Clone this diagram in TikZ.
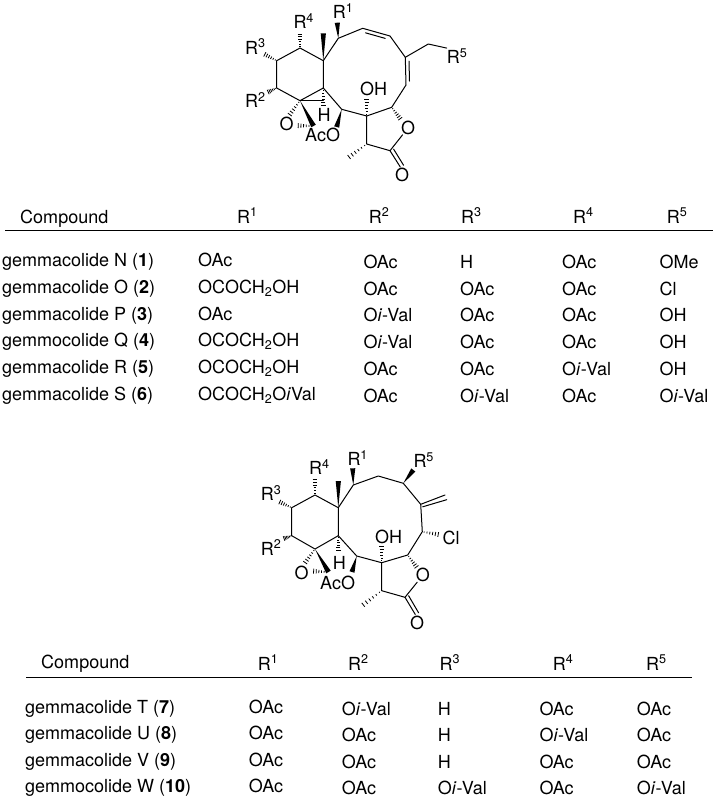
\documentclass[tikz,border=0pt]{standalone}
\usepackage{fontspec}
\setmainfont{TeX Gyre Heros}
\usetikzlibrary{calc}
\newcommand{\wedgebond}[2]{\fill (#1) -- ($(#2)!2.6pt!90:(#1)$) -- ($(#2)!2.6pt!-90:(#1)$) -- cycle;}
\newcommand{\hashbond}[2]{\foreach \t in {0.1,0.25,0.4,0.55,0.7,0.85,1}{
    \pgfmathsetmacro{\hw}{0.3+2.5*\t}
    \draw[line width=0.8pt] ($(#1)!\t!(#2)!\hw pt!90:(#2)$) -- ($(#1)!\t!(#2)!\hw pt!-90:(#2)$);}}
\newcommand{\innerbond}[2]{\draw[bond] ($(#1)!0.14!(#2)!3.6pt!90:(#2)$) -- ($(#2)!0.14!(#1)!3.6pt!-90:(#1)$);}
\begin{document}
\begin{tikzpicture}[x=1pt,y=-1pt,
    bond/.style={line width=1pt,line cap=round,line join=round},
    atom/.style={anchor=base west,inner sep=0pt,font=\fontsize{18}{20}\selectfont},
    cell/.style={anchor=base west,inner sep=0pt,font=\fontsize{18}{20}\selectfont},
    rule/.style={line width=1pt}]
  \useasboundingbox[fill=white] (0,0) rectangle (716,798);

  % upper compound
  \coordinate (ta) at (300,48);      \coordinate (tb) at (276.7,60.7);
  \coordinate (tc) at (276.7,88);    \coordinate (td) at (300,100.7);
  \coordinate (te) at (323.3,88);    \coordinate (tf) at (323.3,60.7);
  \coordinate (tg) at (338.3,38.3);  \coordinate (th) at (362.7,28.3);
  \coordinate (ti) at (390,36);      \coordinate (tj) at (405.3,57.3);
  \coordinate (tk) at (406,85);      \coordinate (tl) at (391.7,107.3);
  \coordinate (tm) at (366.7,116);   \coordinate (tn) at (341.7,109.3);
  \coordinate (tp) at (390,150.7);   \coordinate (tq) at (366.7,144);
  \coordinate (tch) at (428.3,44);
  \node[atom] (tRone) at (332.7,18.3) {R\textsuperscript{1}};
  \node[atom] (tRtwo) at (245,107.3) {R\textsuperscript{2}};
  \node[atom] (tRthree) at (245,54) {R\textsuperscript{3}};
  \node[atom] (tRfour) at (293.3,28.3) {R\textsuperscript{4}};
  \node[atom] (tRfive) at (446.7,63.3) {R\textsuperscript{5}};
  \node[atom] (tOH) at (360,95.7) {OH};
  \node[atom] (tH) at (317.3,121.7) {H};
  \node[atom] (tOep) at (279.3,130.7) {O};
  \node[atom] (tAcO) at (305,141.7) {AcO};
  \node[atom] (tOla) at (401,134.3) {O};
  \node[atom] (tOke) at (395,181.7) {O};
  \draw[bond] (ta) -- (tb) -- (tc) -- (td) -- (te) -- (tf) -- (ta);
  \draw[bond] (tf) -- (tg) -- (th) -- (ti) -- (tj) -- (tk) -- (tl) -- (tm) -- (tn) -- (te);
  \draw[bond] (td) -- (tf |- td);
  \draw[bond] (tm) -- (tq) -- (tp) -- (tOla);
  \draw[bond] (tj) -- (tch) -- (tRfive.north west);
  \innerbond{ti}{th}
  \innerbond{tj}{tk}
  \draw[bond] (tp) -- (400.3,167);
  \draw[bond] ($(tp)+(3.6,-1.6)$) -- (403.6,165.3);
  \wedgebond{tg}{337.3,22.7}
  \wedgebond{tf}{323.3,33.3}
  \wedgebond{td}{313.5,126}
  \wedgebond{tn}{336.7,127}
  \hashbond{ta}{300,31.7}
  \hashbond{tb}{262.7,53.3}
  \hashbond{tc}{266.7,92.7}
  \hashbond{td}{288,117}
  \hashbond{te}{323.3,108}
  \hashbond{tm}{366.7,96.7}
  \hashbond{tl}{401.7,120.7}
  \hashbond{tq}{346,159.3}
  \hashbond{313.5,126}{295.5,125.5}

  % lower compound
  \coordinate (ba) at (315,495);     \coordinate (bb) at (291.7,507.7);
  \coordinate (bc) at (291.7,535.7); \coordinate (bd) at (315,549);
  \coordinate (be) at (338.3,535.7); \coordinate (bf) at (338.3,507.7);
  \coordinate (bg) at (353.3,485);   \coordinate (bh) at (378.3,476);
  \coordinate (bi) at (403.3,483.3); \coordinate (bj) at (420.7,504.3);
  \coordinate (bk) at (422.3,531.7); \coordinate (bl) at (407.7,555);
  \coordinate (bm) at (381.7,562.7); \coordinate (bn) at (356.7,556);
  \coordinate (bp) at (405,597.3);   \coordinate (bq) at (381.7,590.7);
  \node[atom] (bRone) at (347.3,465.7) {R\textsuperscript{1}};
  \node[atom] (bRtwo) at (260.7,555) {R\textsuperscript{2}};
  \node[atom] (bRthree) at (260.7,500.7) {R\textsuperscript{3}};
  \node[atom] (bRfour) at (309,474.3) {R\textsuperscript{4}};
  \node[atom] (bRfive) at (413.3,467.3) {R\textsuperscript{5}};
  \node[atom] (bOH) at (375,543.3) {OH};
  \node[atom] (bCl) at (442.3,544.3) {Cl};
  \node[atom] (bH) at (332.7,569) {H};
  \node[atom] (bOep) at (294.3,579) {O};
  \node[atom] (bAcO) at (320,589) {AcO};
  \node[atom] (bOla) at (415.7,581.7) {O};
  \node[atom] (bOke) at (410,629) {O};
  \draw[bond] (ba) -- (bb) -- (bc) -- (bd) -- (be) -- (bf) -- (ba);
  \draw[bond] (bf) -- (bg) -- (bh) -- (bi) -- (bj) -- (bk) -- (bl) -- (bm) -- (bn) -- (be);
  \draw[bond] (bm) -- (bq) -- (bp) -- (bOla);
  \draw[bond] (bj) -- (445,495);
  \draw[bond] ($(bj)+(2,2.5)$) -- (446.7,499.7);
  \draw[bond] (bp) -- (415.3,614.5);
  \draw[bond] ($(bp)+(3.6,-1.6)$) -- (418.6,612.8);
  \wedgebond{bg}{352.7,468.3}
  \wedgebond{bi}{413.3,470}
  \wedgebond{bf}{338.3,481}
  \wedgebond{bd}{328.5,572}
  \wedgebond{bn}{352,572}
  \hashbond{ba}{315,476.7}
  \hashbond{bb}{277.7,501}
  \hashbond{bc}{282.7,539}
  \hashbond{bd}{303.5,565}
  \hashbond{be}{338.3,553}
  \hashbond{bm}{381.7,544}
  \hashbond{bk}{441,535}
  \hashbond{bl}{418,569}
  \hashbond{bq}{360,607.3}
  \hashbond{328.5,572}{311,571}

  % upper table
  \node[cell] (tCompound) at (20,223) {Compound};
  \foreach \x/\r [count=\c] in {237/1,368.7/2,461/3,573/4,666.7/5}
    \node[cell] (tHead\c) at (\x,223) {R\textsuperscript{\r}};
  \draw[rule] (5,230.7) -- (713,230.7);
  \foreach \nm/\ra/\rb/\rc/\rd/\re [count=\i] in {
      {gemmacolide N (\textbf{1})}/OAc/OAc/H/OAc/OMe,
      {gemmacolide O (\textbf{2})}/{OCOCH\textsubscript{2}OH}/OAc/OAc/OAc/Cl,
      {gemmacolide P (\textbf{3})}/OAc/{O\textit{i}-Val}/OAc/OAc/OH,
      {gemmocolide Q (\textbf{4})}/{OCOCH\textsubscript{2}OH}/{O\textit{i}-Val}/OAc/OAc/OH,
      {gemmacolide R (\textbf{5})}/{OCOCH\textsubscript{2}OH}/OAc/OAc/{O\textit{i}-Val}/OH,
      {gemmacolide S (\textbf{6})}/{OCOCH\textsubscript{2}O\textit{i}Val}/OAc/{O\textit{i}-Val}/OAc/{O\textit{i}-Val}}{
    \pgfmathsetmacro{\ya}{240+26.7*\i}
    \pgfmathsetmacro{\yb}{\ya+1.8}
    \node[cell] (tName\i) at (2,\ya) {\nm};
    \node[cell] (tA\i) at (198,\ya) {\ra};
    \node[cell] (tB\i) at (363.3,\yb) {\rb};
    \node[cell] (tC\i) at (460,\yb) {\rc};
    \node[cell] (tD\i) at (562,\yb) {\rd};
    \node[cell] (tE\i) at (659.3,\yb) {\re};
  }

  % lower table
  \node[cell] (bCompound) at (41,668.5) {Compound};
  \foreach \x/\r [count=\c] in {257.7/1,348/2,439.3/3,552.7/4,646/5}
    \node[cell] (bHead\c) at (\x,670) {R\textsuperscript{\r}};
  \draw[rule] (26,677.3) -- (691.7,677.3);
  \foreach \nm/\ra/\rb/\rc/\rd/\re [count=\i] in {
      {gemmacolide T (\textbf{7})}/OAc/{O\textit{i}-Val}/H/OAc/OAc,
      {gemmacolide U (\textbf{8})}/OAc/OAc/H/{O\textit{i}-Val}/OAc,
      {gemmacolide V (\textbf{9})}/OAc/OAc/H/OAc/OAc,
      {gemmocolide W (\textbf{10})}/OAc/OAc/{O\textit{i}-Val}/OAc/{O\textit{i}-Val}}{
    \pgfmathsetmacro{\ya}{687+26.4*\i}
    \pgfmathsetmacro{\yb}{\ya+1.8}
    \node[cell] (bName\i) at (25,\ya) {\nm};
    \node[cell] (bA\i) at (248.7,\ya) {\ra};
    \node[cell] (bB\i) at (341.7,\yb) {\rb};
    \node[cell] (bC\i) at (437.7,\yb) {\rc};
    \node[cell] (bD\i) at (539.3,\yb) {\rd};
    \node[cell] (bE\i) at (636.7,\yb) {\re};
  }
\end{tikzpicture}
\end{document}
